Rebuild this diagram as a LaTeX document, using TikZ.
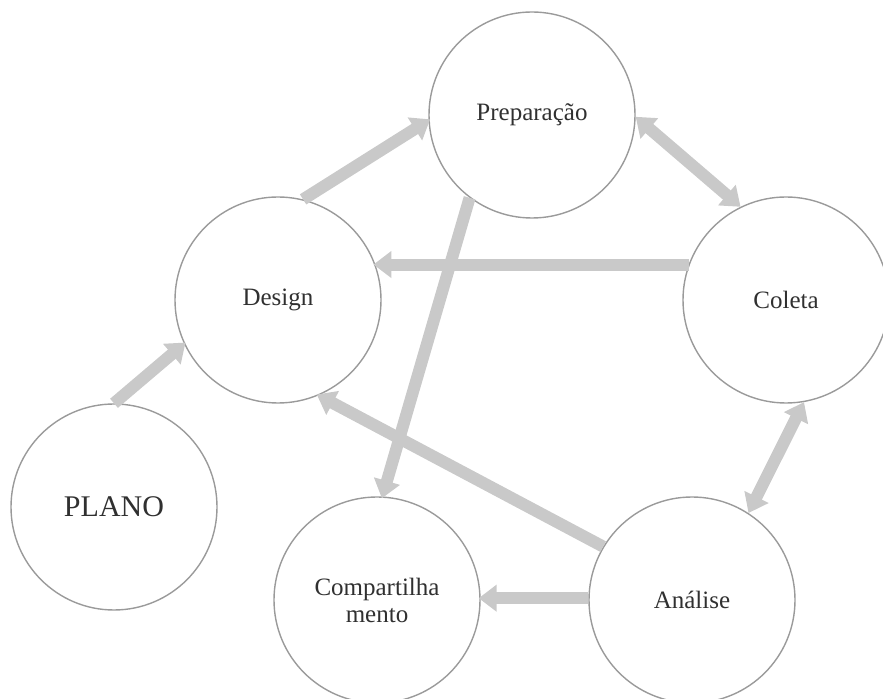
\documentclass[tikz,border=0pt]{standalone}
\usepackage{fontspec}
\setmainfont{Liberation Serif}
\usepackage{tikz}
\usetikzlibrary{arrows.meta}

\definecolor{flowgray}{HTML}{C9C9C9}
\definecolor{ringgray}{HTML}{9A9A9A}
\definecolor{labelgray}{HTML}{303030}

\begin{document}
\begin{tikzpicture}[x=0.5pt,y=-0.5pt,>={Triangle[width=13pt,length=9pt]}]
		\tikzstyle{stage}=[circle, draw=ringgray, line width=0.7pt, minimum size=103pt, inner sep=0pt, text=labelgray, font=\fontsize{12.5}{13.5}\selectfont, align=center]
		\tikzstyle{flow}=[->, draw=flowgray, fill=flowgray, line width=6pt, shorten >=-1pt]
		\tikzstyle{flow both}=[<->, draw=flowgray, fill=flowgray, line width=6pt]

		\useasboundingbox (0,0) rectangle (883,699);

		\node [stage] (prep) at (532,115) {Prepara\c{c}\~ao};
		\node [stage] (design) at (278,300) {Design};
		\node [stage] (coleta) at (786,300) {Coleta};
		\node [stage, font=\fontsize{15}{15}\selectfont] (plano) at (114,507) {PLANO};
		\node [stage] (comp) at (377,600) {Compartilha\\mento};
		\node [stage] (analise) at (692,600) {An\'alise};

		\draw [flow] (plano.90) -- (design.205);
		\draw [flow] (design.76) -- (prep.183);
		\draw [flow both] (prep.359) -- (coleta.116);
		\draw [flow] (coleta.160) -- (design.20);
		\draw [flow] (prep.233) -- (comp.87);
		\draw [flow] (analise.149) -- (design.293);
		\draw [flow] (analise.179) -- (comp.1);
		\draw [flow both] (coleta.280) -- (analise.57);
	\end{tikzpicture}
\end{document}
